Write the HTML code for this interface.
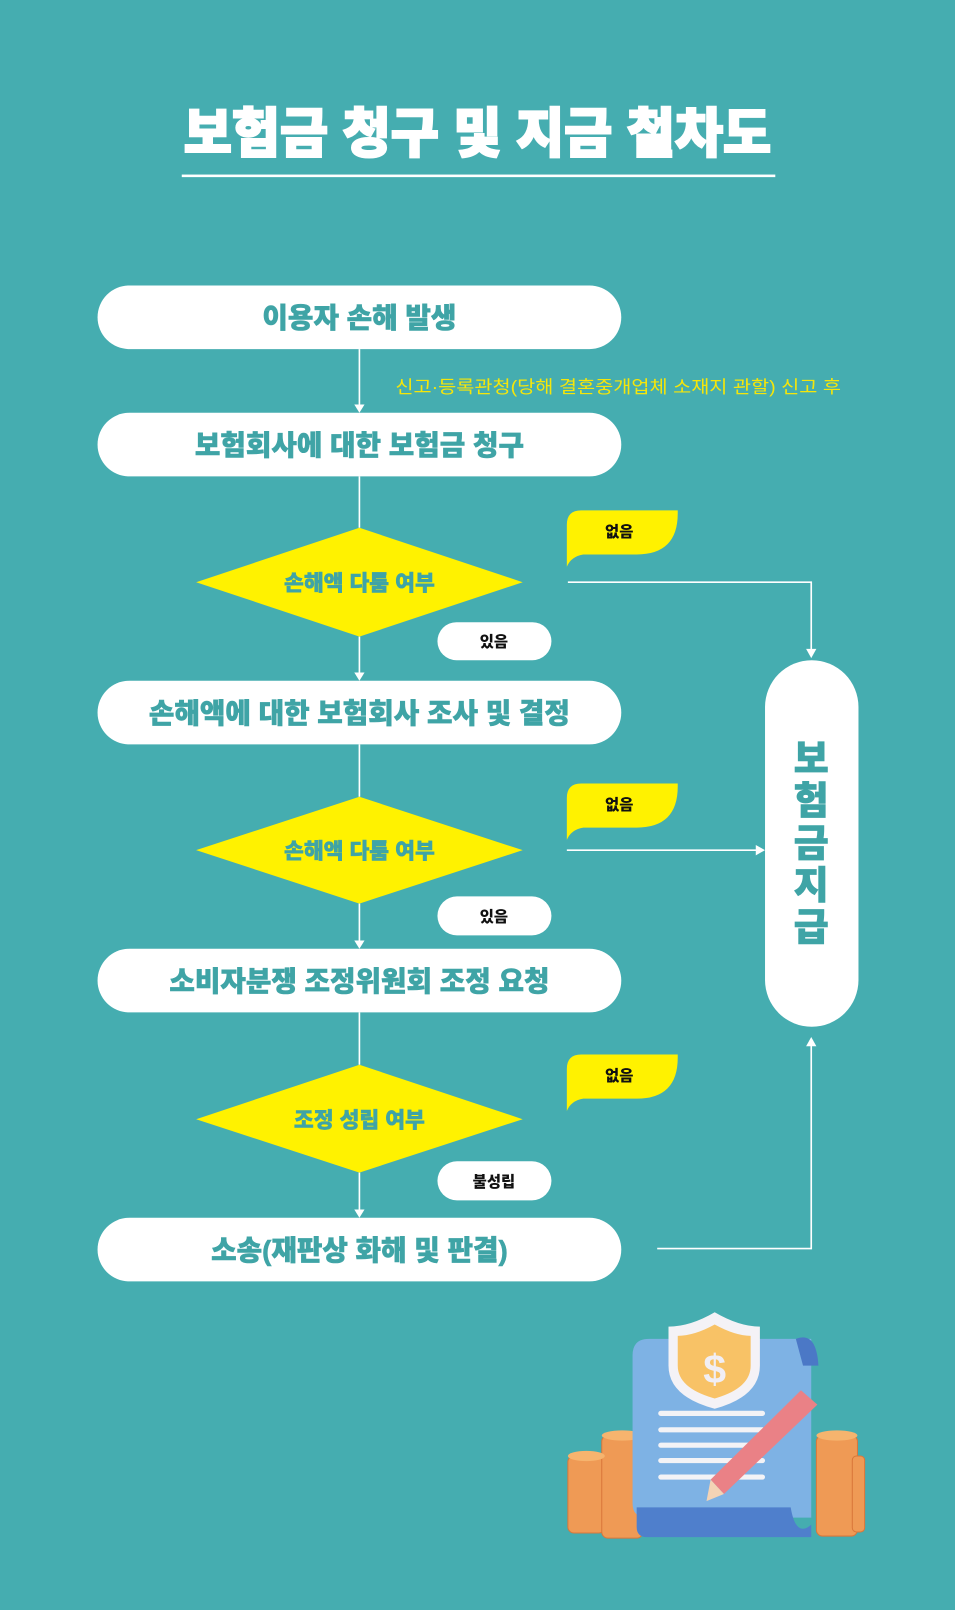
<!DOCTYPE html>
<html><head><meta charset="utf-8"><style>
html,body{margin:0;padding:0;background:#45adb0;}
svg{display:block}
text{font-family:"Liberation Sans","Noto Sans CJK KR",sans-serif;font-weight:900;}
</style></head><body>
<svg width="955" height="1610" viewBox="0 0 930 1568" preserveAspectRatio="none" xmlns="http://www.w3.org/2000/svg">
<rect width="930" height="1568" fill="#45adb0"/>
<text x="465" y="148" text-anchor="middle" font-size="52" fill="#fff" stroke="#fff" stroke-width="2" textLength="572" lengthAdjust="spacingAndGlyphs">보험금 청구 및 지금 철차도</text>
<rect x="177" y="170" width="578" height="2.5" fill="#fff"/>

<g stroke="#fff" stroke-width="1.6" fill="none">
<line x1="350" y1="340" x2="350" y2="395"/>
<line x1="350" y1="464" x2="350" y2="514"/>
<line x1="350" y1="620" x2="350" y2="656"/>
<line x1="350" y1="725" x2="350" y2="776"/>
<line x1="350" y1="880" x2="350" y2="917"/>
<line x1="350" y1="986" x2="350" y2="1037"/>
<line x1="350" y1="1142" x2="350" y2="1179"/>
<polyline points="553,567 790,567 790,633"/>
<line x1="552" y1="828" x2="737" y2="828"/>
<polyline points="640,1216 790,1216 790,1018"/>
</g>
<g fill="#fff">
<polygon points="345,394 355,394 350,402"/>
<polygon points="345,655 355,655 350,663"/>
<polygon points="345,916 355,916 350,924"/>
<polygon points="345,1178 355,1178 350,1186"/>
<polygon points="785,632 795,632 790,641"/>
<polygon points="736,823 736,833 745,828"/>
<polygon points="785,1019 795,1019 790,1010"/>
</g>

<g fill="#fff">
<rect x="95" y="278" width="510" height="62" rx="31"/>
<rect x="95" y="402" width="510" height="62" rx="31"/>
<rect x="95" y="663" width="510" height="62" rx="31"/>
<rect x="95" y="924" width="510" height="62" rx="31"/>
<rect x="95" y="1186" width="510" height="62" rx="31"/>
<rect x="745" y="643" width="91" height="357" rx="45.5"/>
<rect x="426" y="606" width="111" height="37" rx="18.5"/>
<rect x="426" y="873" width="111" height="38" rx="19"/>
<rect x="426" y="1131" width="111" height="38" rx="19"/>
</g>
<g fill="#3fa4a6" font-size="27" text-anchor="middle" stroke="#3fa4a6" stroke-width="0.6">
<text x="350" y="319">이용자 손해 발생</text>
<text x="350" y="443">보험회사에 대한 보험금 청구</text>
<text x="350" y="704">손해액에 대한 보험회사 조사 및 결정</text>
<text x="350" y="965">소비자분쟁 조정위원회 조정 요청</text>
<text x="350" y="1227">소송(재판상 화해 및 판결)</text>
</g>
<g fill="#3fa4a6" font-size="37" text-anchor="middle" stroke="#3fa4a6" stroke-width="0.8">
<text x="790" y="752">보</text><text x="790" y="793">험</text><text x="790" y="834">금</text><text x="790" y="875">지</text><text x="790" y="916">급</text>
</g>
<text x="602" y="383" fill="#f5e60a" font-size="17" text-anchor="middle" style="font-weight:400" textLength="434" lengthAdjust="spacingAndGlyphs">신고·등록관청(당해 결혼중개업체 소재지 관할) 신고 후</text>

<g fill="#fff200">
<polygon points="191,567 350,514 509,567 350,620"/>
<polygon points="191,828 350,776 509,828 350,880"/>
<polygon points="191,1090 350,1037 509,1090 350,1142"/>
<path d="M566 497 H660 V500 Q660 540 620 540 H568 Q556 542 552 552 V511 Q552 497 566 497 Z"/>
<path d="M566 763 H660 V766 Q660 806 620 806 H568 Q556 808 552 818 V777 Q552 763 566 763 Z"/>
<path d="M566 1027 H660 V1030 Q660 1070 620 1070 H568 Q556 1072 552 1082 V1041 Q552 1027 566 1027 Z"/>
</g>
<g fill="#3fa4a6" font-size="21" text-anchor="middle" stroke="#3fa4a6" stroke-width="0.5">
<text x="350" y="575">손해액 다툼 여부</text>
<text x="350" y="836">손해액 다툼 여부</text>
<text x="350" y="1098">조정 성립 여부</text>
</g>
<g fill="#111" font-size="15" text-anchor="middle">
<text x="603" y="523">없음</text>
<text x="603" y="789">없음</text>
<text x="603" y="1053">없음</text>
<text x="481" y="630">있음</text>
<text x="481" y="898">있음</text>
<text x="481" y="1156">불성립</text>
</g>

<!-- illustration -->
<g>
<g fill="#ef9a55" stroke="#d9773a" stroke-width="1">
<rect x="553" y="1418" width="36" height="75" rx="6"/>
<rect x="586" y="1398" width="40" height="100" rx="6"/>
<rect x="795" y="1398" width="40" height="98" rx="6"/>
<rect x="830" y="1418" width="12" height="74" rx="4"/>
</g>
<ellipse cx="571" cy="1418" rx="18" ry="5" fill="#f6b46e"/>
<ellipse cx="606" cy="1398" rx="20" ry="5" fill="#f6b46e"/>
<ellipse cx="815" cy="1398" rx="20" ry="5" fill="#f6b46e"/>
<path d="M632 1304 H790 V1478 H630 Q616 1478 616 1464 V1320 Q616 1304 632 1304 Z" fill="#7eb2e4"/>
<path d="M775 1304 Q795 1296 797 1330 H782 Z" fill="#4b78c6"/>
<path d="M620 1468 H770 Q775 1498 790 1485 V1497 H630 Q620 1497 620 1487 Z" fill="#4f7fcc"/>
<g fill="#f3f3f6">
<rect x="641" y="1374" width="104" height="5" rx="2.5"/>
<rect x="641" y="1390" width="104" height="5" rx="2.5"/>
<rect x="641" y="1405" width="104" height="5" rx="2.5"/>
<rect x="641" y="1420" width="104" height="5" rx="2.5"/>
<rect x="641" y="1436" width="104" height="5" rx="2.5"/>
</g>
<path d="M696 1278 Q720 1292 740 1292 V1330 Q740 1360 696 1372 Q651 1360 651 1330 V1292 Q672 1292 696 1278 Z" fill="#f4f2f6"/>
<path d="M696 1290 Q716 1301 731 1301 V1330 Q731 1352 696 1362 Q660 1352 660 1330 V1301 Q676 1301 696 1290 Z" fill="#f8c266"/>
<text x="696" y="1347" font-size="40" fill="#f1eef4" text-anchor="middle">$</text>
<polygon points="780,1354 796,1368 705,1455 692,1441" fill="#ea8186"/>
<polygon points="692,1441 705,1455 688,1462" fill="#f3d3b5"/>
</g>
</svg>
</body></html>
